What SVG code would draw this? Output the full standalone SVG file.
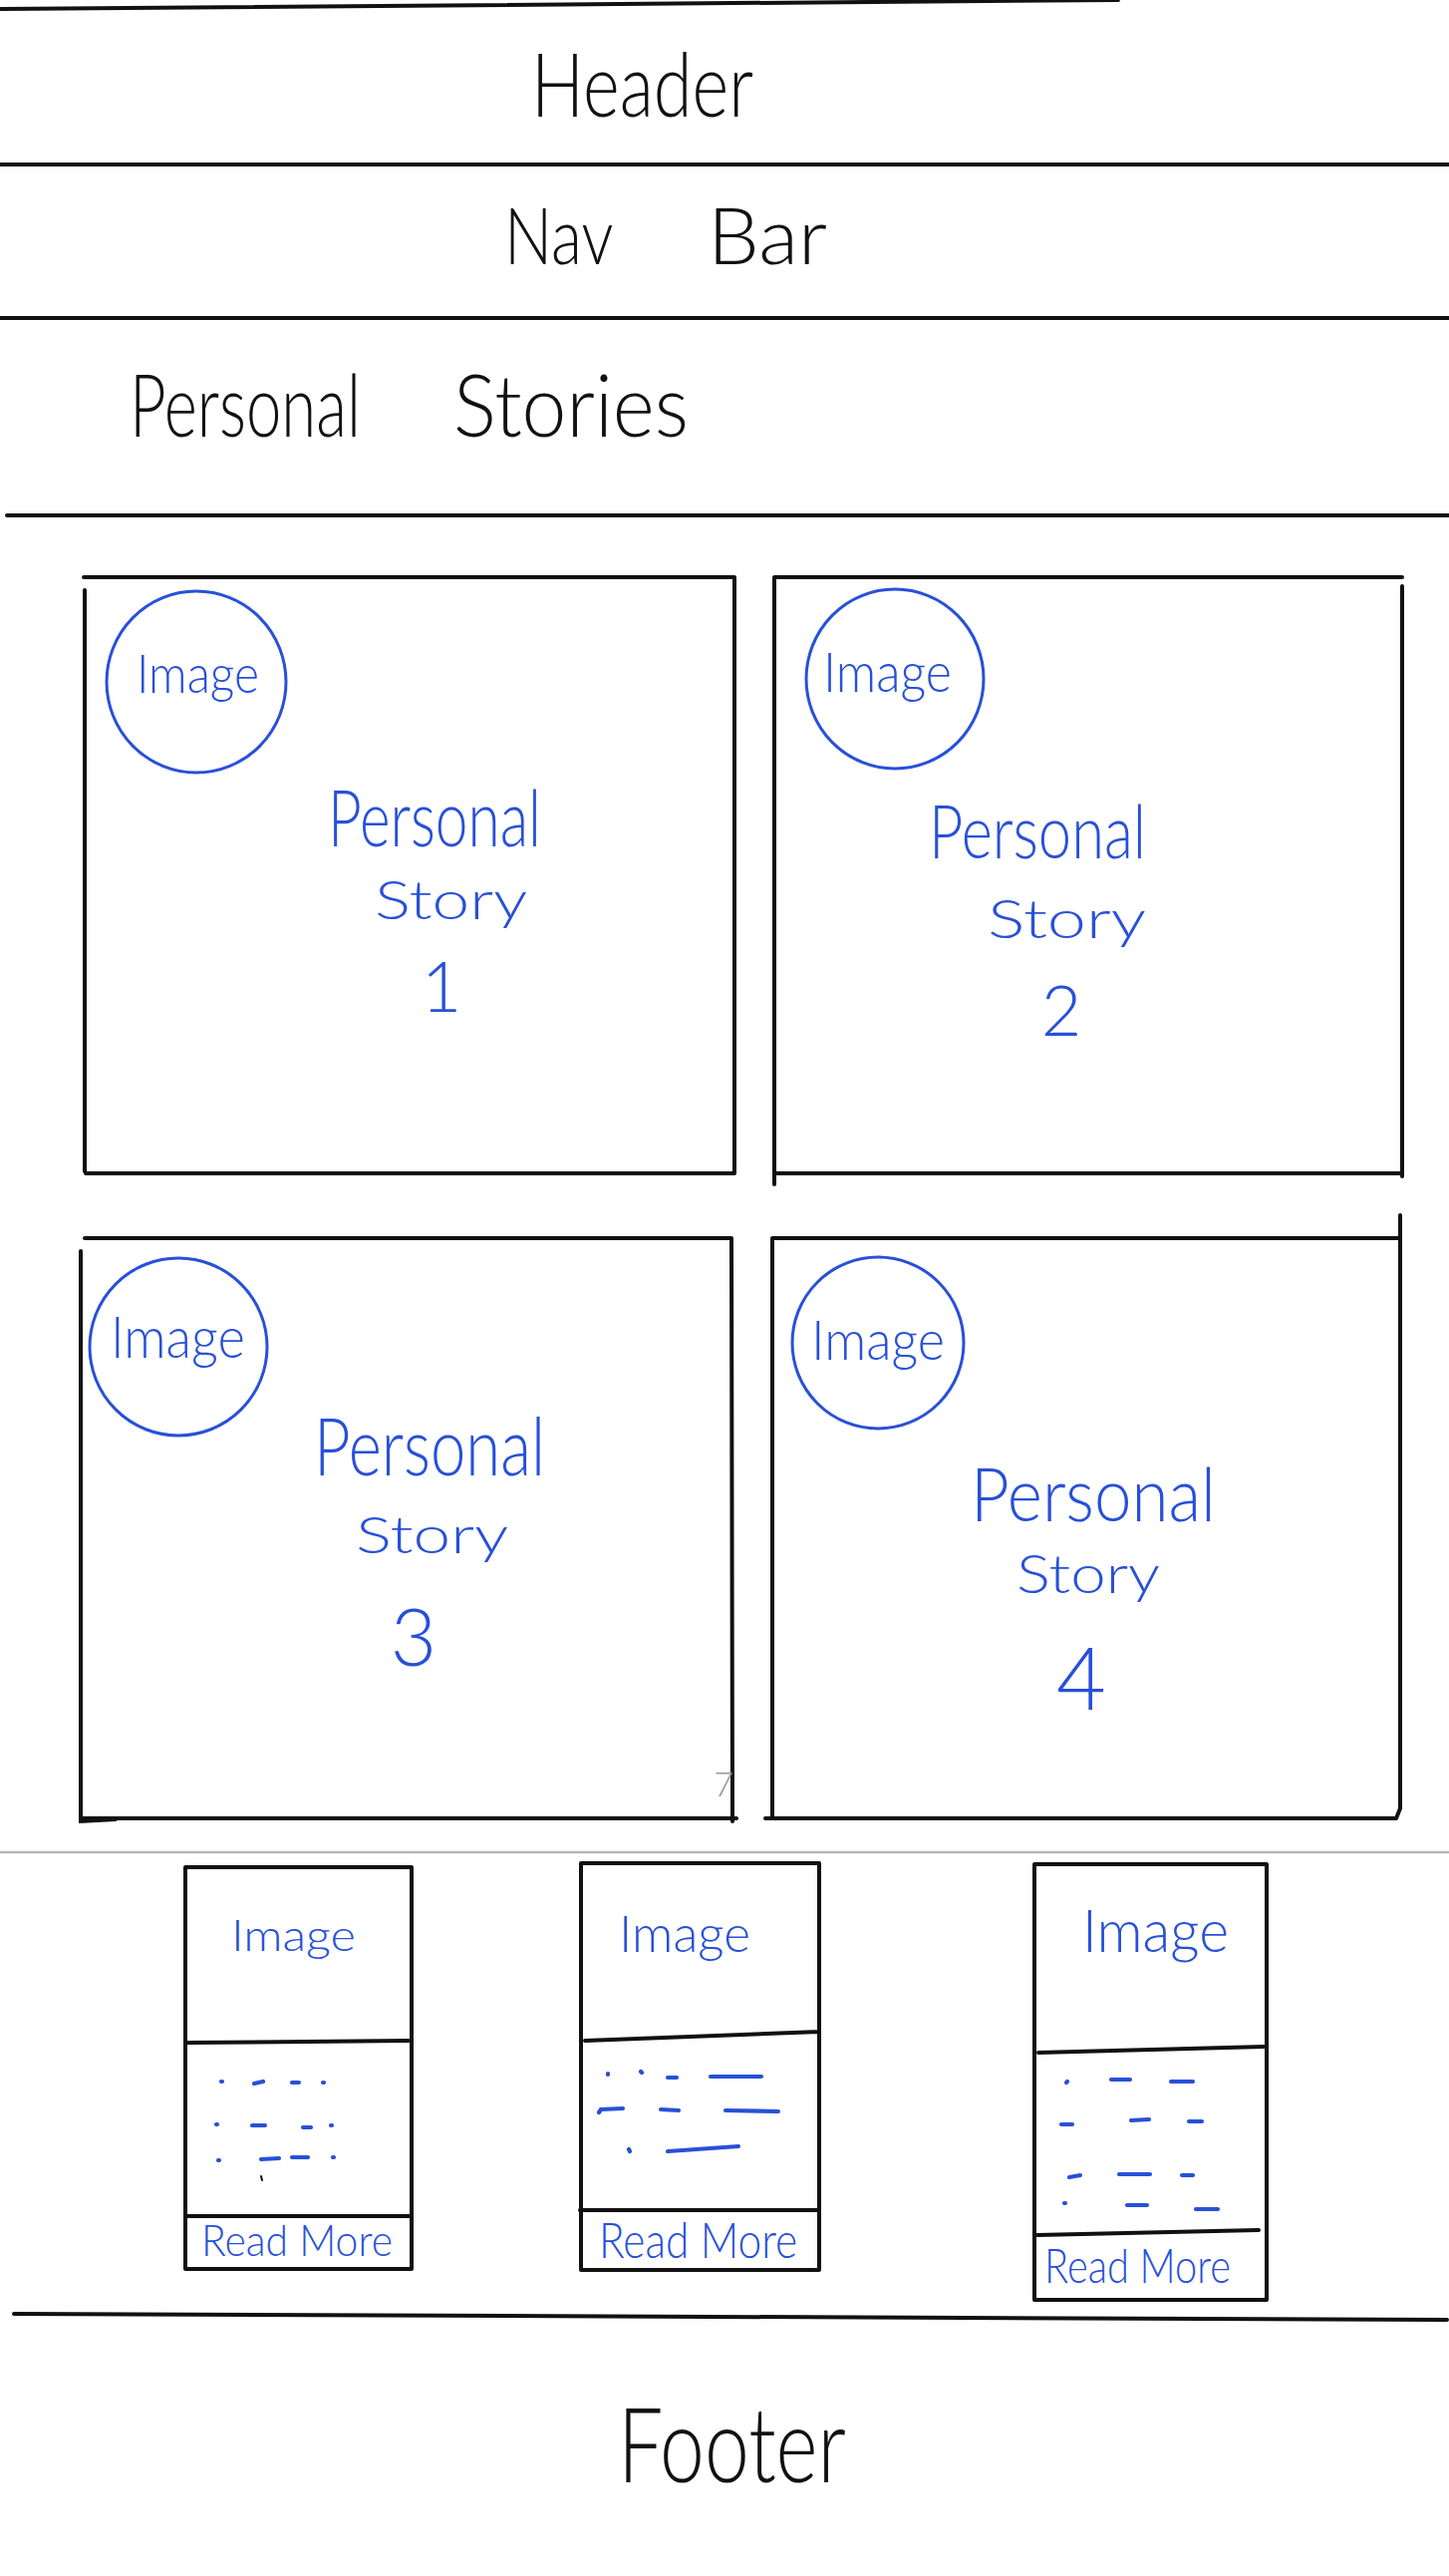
<svg xmlns="http://www.w3.org/2000/svg" width="1454" height="2584" viewBox="0 0 1454 2584">
<style>
.ink{stroke:#111;stroke-width:4;fill:none;stroke-linecap:round}
.gray{stroke:#b4b4b4;stroke-width:2.5;fill:none}
.ring{stroke:#2850d8;stroke-width:3;fill:none}
.dash{stroke:#2850d8;stroke-width:4.2;fill:none;stroke-linecap:round}
.t{font-family:Lato,"Liberation Sans",sans-serif;font-weight:300}
.k{fill:#111}
.b{fill:#2850d8}
</style>
<rect width="1454" height="2584" fill="#fff"/>

<g id="layout-lines">
<path class="ink" d="M0 9 L1122 0"/>
<path class="ink" d="M0 165 L1454 165"/>
<path class="ink" d="M0 319 L1454 319"/>
<path class="ink" d="M7 517 L1454 517"/>
<path class="gray" d="M0 1858 L1454 1858"/>
<path class="ink" d="M14 2321 L1452 2327"/>
</g>

<g id="header">
<text class="t k" x="533" y="117" font-size="88" textLength="223" lengthAdjust="spacingAndGlyphs">Header</text>
</g>

<g id="nav-bar">
<text class="t k" y="265" font-size="78"><tspan x="506" textLength="108" lengthAdjust="spacingAndGlyphs">Nav</tspan> <tspan x="710" textLength="120" lengthAdjust="spacingAndGlyphs">Bar</tspan></text>
</g>

<g id="section-title">
<text class="t k" y="438" font-size="86"><tspan x="130" textLength="232" lengthAdjust="spacingAndGlyphs">Personal</tspan> <tspan x="455" textLength="236" lengthAdjust="spacingAndGlyphs">Stories</tspan></text>
</g>

<g id="story-1">
<path class="ink" d="M84 579 L737 579 M85 592 L85 1175 M737 579 L737 1177 M86 1177 L737 1177"/>
<ellipse class="ring" cx="197" cy="684" rx="90" ry="91"/>
<text class="t b" x="137" y="695" font-size="54" textLength="123" lengthAdjust="spacingAndGlyphs">Image</text>
<text class="t b" x="329" y="849" font-size="78" textLength="214" lengthAdjust="spacingAndGlyphs">Personal</text>
<text class="t b" x="376" y="922" font-size="54" textLength="153" lengthAdjust="spacingAndGlyphs">Story</text>
<text class="t b" x="443" y="1015" font-size="70" text-anchor="middle">1</text>
</g>

<g id="story-2">
<path class="ink" d="M777 579 L1407 579 M777 579 L777 1188 M1407 588 L1407 1180 M779 1177 L1405 1177"/>
<ellipse class="ring" cx="898" cy="681" rx="89" ry="90"/>
<text class="t b" x="826" y="694" font-size="56" textLength="129" lengthAdjust="spacingAndGlyphs">Image</text>
<text class="t b" x="932" y="861" font-size="74" textLength="218" lengthAdjust="spacingAndGlyphs">Personal</text>
<text class="t b" x="991" y="941" font-size="54" textLength="159" lengthAdjust="spacingAndGlyphs">Story</text>
<text class="t b" x="1065" y="1039" font-size="70" text-anchor="middle">2</text>
</g>

<g id="story-3">
<path class="ink" d="M85 1242 L733 1242 M81 1255 L81 1827 L116 1825 M734 1242 L735 1827 M81 1824 L739 1824"/>
<ellipse class="ring" cx="179" cy="1351" rx="89" ry="89"/>
<text class="t b" x="111" y="1362" font-size="58" textLength="135" lengthAdjust="spacingAndGlyphs">Image</text>
<text class="t b" x="315" y="1480" font-size="80" textLength="232" lengthAdjust="spacingAndGlyphs">Personal</text>
<text class="t b" x="357" y="1558" font-size="52" textLength="153" lengthAdjust="spacingAndGlyphs">Story</text>
<text class="t b" x="415" y="1671" font-size="80" text-anchor="middle">3</text>
<text class="t" x="726" y="1802" font-size="34" fill="#9a9a9a" text-anchor="middle">7</text>
</g>

<g id="story-4">
<path class="ink" d="M775 1242 L1403 1242 M775 1242 L775 1824 M1405 1219 L1405 1814 L1401 1824 M768 1824 L1401 1824"/>
<ellipse class="ring" cx="881" cy="1347" rx="86" ry="86"/>
<text class="t b" x="814" y="1364" font-size="56" textLength="134" lengthAdjust="spacingAndGlyphs">Image</text>
<text class="t b" x="974" y="1526" font-size="74" textLength="246" lengthAdjust="spacingAndGlyphs">Personal</text>
<text class="t b" x="1020" y="1598" font-size="54" textLength="144" lengthAdjust="spacingAndGlyphs">Story</text>
<text class="t b" x="1085" y="1715" font-size="86" text-anchor="middle">4</text>
</g>

<g id="card-1">
<path class="ink" d="M186 1873 L413 1873 M186 1873 L186 2276 M413 1873 L413 2276 M186 2276 L413 2276 M188 2049 L410 2047 M186 2223 L413 2223"/>
<text class="t b" x="232" y="1957" font-size="44" textLength="125" lengthAdjust="spacingAndGlyphs">Image</text>
<g class="dash">
<path d="M222 2088 L223 2088 M255 2090 L264 2088 M293 2089 L300 2089 M324 2089 L325 2089"/>
<path d="M217 2131 L218 2131 M253 2132 L266 2132 M304 2134 L312 2134 M332 2132 L333 2132"/>
<path d="M219 2167 L220 2167 M262 2166 L280 2165 M293 2164 L309 2164 M334 2164 L335 2164"/>
</g>
<path d="M262 2183 L263 2187" stroke="#111" stroke-width="2" stroke-linecap="round"/>
<text class="t b" x="202" y="2263" font-size="44" textLength="192" lengthAdjust="spacingAndGlyphs">Read More</text>
</g>

<g id="card-2">
<path class="ink" d="M583 1869 L822 1869 M583 1869 L583 2277 M822 1869 L822 2277 M583 2277 L822 2277 M587 2047 L822 2038 M582 2217 L822 2217"/>
<text class="t b" x="621" y="1958" font-size="52" textLength="132" lengthAdjust="spacingAndGlyphs">Image</text>
<g class="dash">
<path d="M610 2080 L610 2081 M643 2078 L644 2079 M670 2084 L679 2084 M713 2083 L764 2083"/>
<path d="M601 2119 L603 2116 L625 2115 M663 2116 L681 2117 M728 2117 L781 2118"/>
<path d="M631 2156 L632 2158 M670 2158 L741 2153"/>
</g>
<text class="t b" x="601" y="2265" font-size="50" textLength="199" lengthAdjust="spacingAndGlyphs">Read More</text>
</g>

<g id="card-3">
<path class="ink" d="M1038 1870 L1271 1870 M1038 1870 L1038 2307 M1271 1870 L1271 2307 M1038 2307 L1271 2307 M1042 2059 L1268 2053 M1041 2242 L1263 2237"/>
<text class="t b" x="1086" y="1958" font-size="60" textLength="147" lengthAdjust="spacingAndGlyphs">Image</text>
<g class="dash">
<path d="M1070 2089 L1071 2088 M1115 2086 L1134 2086 M1175 2088 L1197 2088"/>
<path d="M1065 2131 L1076 2131 M1135 2127 L1153 2126 M1193 2128 L1206 2128"/>
<path d="M1073 2184 L1084 2182 M1123 2181 L1154 2181 M1186 2182 L1197 2182"/>
<path d="M1068 2210 L1069 2210 M1131 2212 L1151 2212 M1200 2216 L1222 2216"/>
</g>
<text class="t b" x="1048" y="2290" font-size="48" textLength="187" lengthAdjust="spacingAndGlyphs">Read More</text>
</g>

<g id="footer">
<text class="t k" x="620" y="2490" font-size="104" textLength="229" lengthAdjust="spacingAndGlyphs">Footer</text>
</g>
</svg>
